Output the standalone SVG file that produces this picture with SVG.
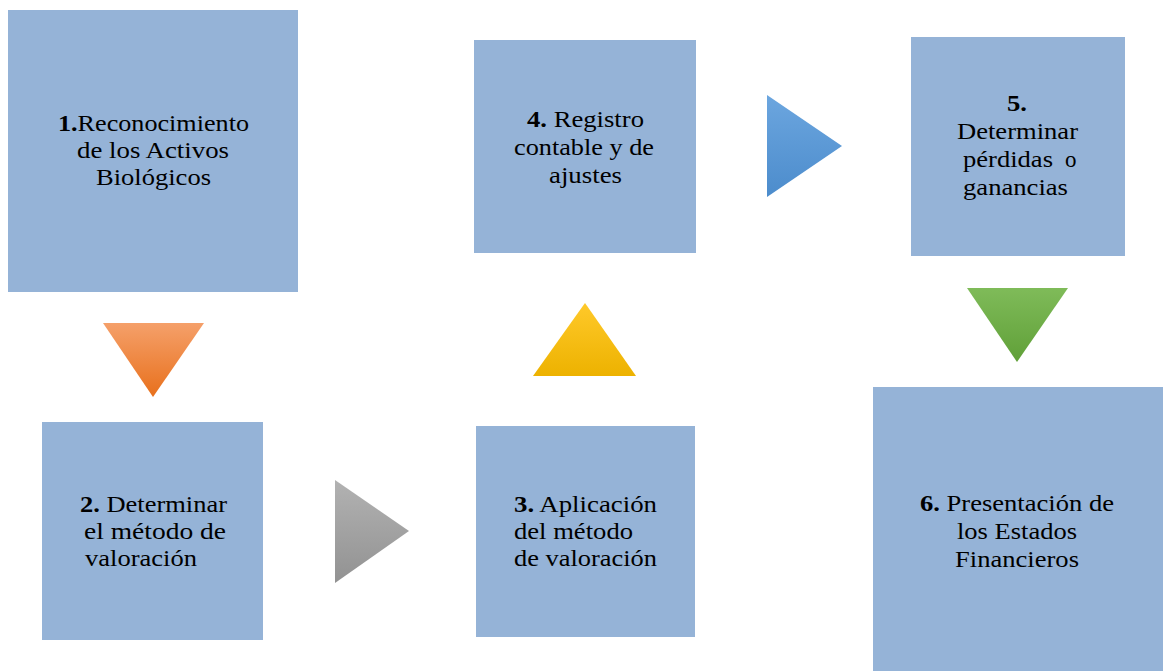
<svg xmlns="http://www.w3.org/2000/svg" width="1163" height="671" viewBox="0 0 1163 671">
<style>
.box{fill:#95B3D7;}
.t{font-family:"Liberation Serif","Times New Roman",serif;font-size:23px;fill:#000;}
.b{font-weight:bold;}
</style>
<defs>
<linearGradient id="gOr" x1="0" y1="0" x2="0" y2="1"><stop offset="0" stop-color="#F5A06A"/><stop offset="1" stop-color="#E8701C"/></linearGradient>
<linearGradient id="gGr" x1="0" y1="0" x2="0" y2="1"><stop offset="0" stop-color="#B2B2B2"/><stop offset="1" stop-color="#929292"/></linearGradient>
<linearGradient id="gYe" x1="0" y1="0" x2="0" y2="1"><stop offset="0" stop-color="#FFC92A"/><stop offset="1" stop-color="#EDB200"/></linearGradient>
<linearGradient id="gBl" x1="0" y1="0" x2="0" y2="1"><stop offset="0" stop-color="#6CA6DF"/><stop offset="1" stop-color="#4C8CCC"/></linearGradient>
<linearGradient id="gGn" x1="0" y1="0" x2="0" y2="1"><stop offset="0" stop-color="#7FBB59"/><stop offset="1" stop-color="#60A038"/></linearGradient>
</defs>
<rect width="1163" height="671" fill="#FFFFFF"/>

<g id="connectors">
<polygon points="103,323 204,323 153,397" fill="url(#gOr)"/>
<polygon points="335,480 409,531 335,583" fill="url(#gGr)"/>
<polygon points="585,303 636,376 533,376" fill="url(#gYe)"/>
<polygon points="767,95 842,146 767,197" fill="url(#gBl)"/>
<polygon points="967,288 1068,288 1017,362" fill="url(#gGn)"/>
</g>

<g id="node1">
<rect class="box" x="8" y="10" width="290" height="282"/>
<text class="t" x="58" y="131" textLength="191" lengthAdjust="spacingAndGlyphs"><tspan class="b">1.</tspan>Reconocimiento</text>
<text class="t" x="77" y="158" textLength="152" lengthAdjust="spacingAndGlyphs">de los Activos</text>
<text class="t" x="96" y="185" textLength="115" lengthAdjust="spacingAndGlyphs">Biológicos</text>
</g>

<g id="node2">
<rect class="box" x="42" y="422" width="221" height="218"/>
<text class="t" x="80" y="512" textLength="147" lengthAdjust="spacingAndGlyphs"><tspan class="b">2.</tspan> Determinar</text>
<text class="t" x="84" y="539" textLength="142" lengthAdjust="spacingAndGlyphs">el método de</text>
<text class="t" x="85" y="566" textLength="112" lengthAdjust="spacingAndGlyphs">valoración</text>
</g>

<g id="node3">
<rect class="box" x="476" y="426" width="219" height="211"/>
<text class="t" x="514" y="512" textLength="143" lengthAdjust="spacingAndGlyphs"><tspan class="b">3.</tspan> Aplicación</text>
<text class="t" x="514" y="539" textLength="119" lengthAdjust="spacingAndGlyphs">del método</text>
<text class="t" x="514" y="566" textLength="143" lengthAdjust="spacingAndGlyphs">de valoración</text>
</g>

<g id="node4">
<rect class="box" x="474" y="40" width="222" height="213"/>
<text class="t" x="527" y="127" textLength="117" lengthAdjust="spacingAndGlyphs"><tspan class="b">4.</tspan> Registro</text>
<text class="t" x="514" y="155" textLength="140" lengthAdjust="spacingAndGlyphs">contable y de</text>
<text class="t" x="549" y="183" textLength="73" lengthAdjust="spacingAndGlyphs">ajustes</text>
</g>

<g id="node5">
<rect class="box" x="911" y="37" width="214" height="219"/>
<text class="t b" x="1007" y="111" textLength="20" lengthAdjust="spacingAndGlyphs">5.</text>
<text class="t" x="957" y="139" textLength="121" lengthAdjust="spacingAndGlyphs">Determinar</text>
<text class="t"><tspan x="963" y="167" textLength="90" lengthAdjust="spacingAndGlyphs">pérdidas</tspan><tspan x="1065" y="167">o</tspan></text>
<text class="t" x="963" y="195" textLength="105" lengthAdjust="spacingAndGlyphs">ganancias</text>
</g>

<g id="node6">
<rect class="box" x="873" y="387" width="290" height="284"/>
<text class="t" x="920" y="511" textLength="194" lengthAdjust="spacingAndGlyphs"><tspan class="b">6.</tspan> Presentación de</text>
<text class="t" x="957" y="539" textLength="120" lengthAdjust="spacingAndGlyphs">los Estados</text>
<text class="t" x="955" y="567" textLength="124" lengthAdjust="spacingAndGlyphs">Financieros</text>
</g>
</svg>
